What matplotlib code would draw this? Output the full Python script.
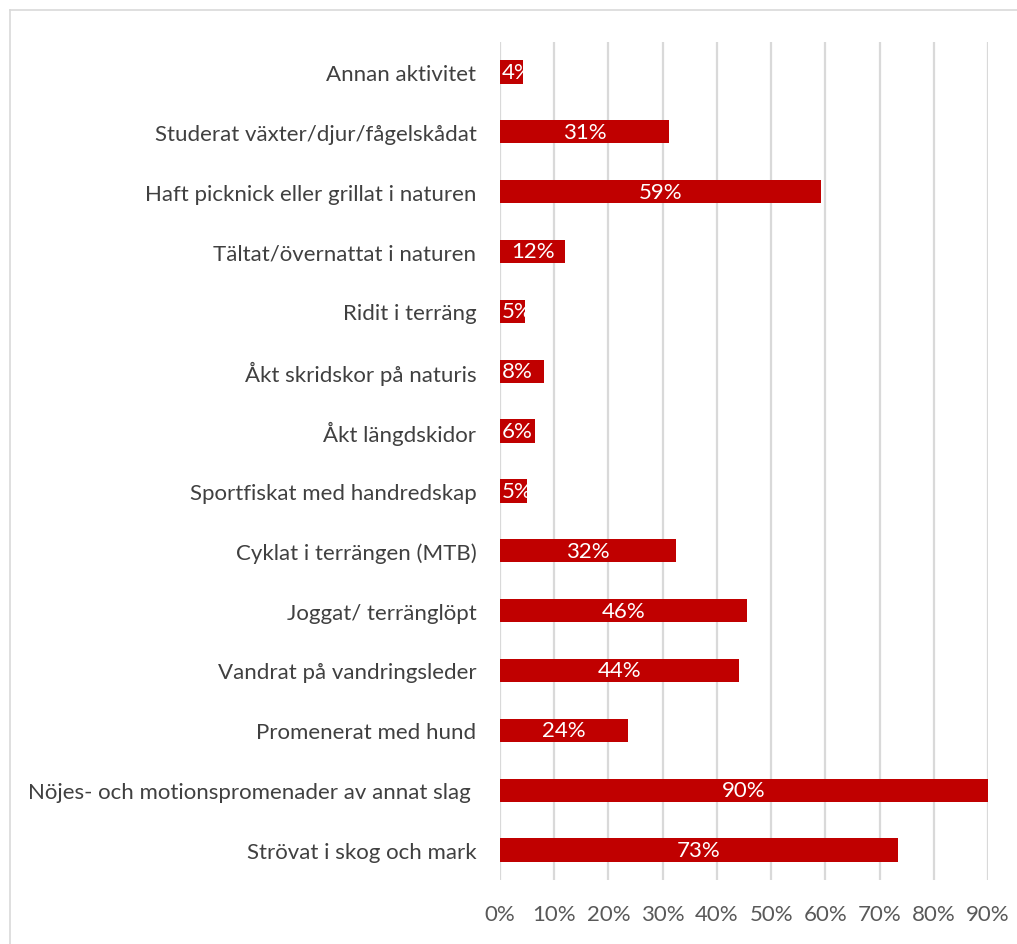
import matplotlib
matplotlib.use("Agg")
import matplotlib.pyplot as plt
from matplotlib.lines import Line2D
from matplotlib.ticker import FuncFormatter

categories = [
    "Strövat i skog och mark",
    "Nöjes- och motionspromenader av annat slag ",
    "Promenerat med hund",
    "Vandrat på vandringsleder",
    "Joggat/ terränglöpt",
    "Cyklat i terrängen (MTB)",
    "Sportfiskat med handredskap",
    "Åkt längdskidor",
    "Åkt skridskor på naturis",
    "Ridit i terräng",
    "Tältat/övernattat i naturen",
    "Haft picknick eller grillat i naturen",
    "Studerat växter/djur/fågelskådat",
    "Annan aktivitet",
]
values = [73.4, 90.0, 23.6, 44.1, 45.6, 32.5, 5.0, 6.5, 8.1, 4.6, 12.0, 59.2, 31.2, 4.2]
xticks = [0, 10, 20, 30, 40, 50, 60, 70, 80, 90]

plt.rcParams['font.family'] = ['Lato', 'DejaVu Sans']

fig = plt.figure(figsize=(10.17, 9.45), dpi=100)
ax = fig.add_axes([500/1017, 1-881/945, 488/1017, 838/945])

y = list(range(len(categories)))
bars = ax.barh(y, values, height=0.39, color="#C00000", zorder=3)
for bar, yi, v in zip(bars, y, values):
    if v < 10:
        t = ax.text(0.35, yi, f"{round(v):.0f}%", ha="left", va="center",
                    color="white", fontsize=16, zorder=4)
    else:
        t = ax.text(v/2, yi, f"{round(v):.0f}%", ha="center", va="center",
                    color="white", fontsize=16, zorder=4)
    t.set_clip_path(bar)

ax.set_xlim(0, 90)
ax.set_ylim(-0.5, len(categories)-0.5)
ax.set_xticks(xticks)
ax.xaxis.set_major_formatter(FuncFormatter(lambda v, p: f"{v:.0f}%"))
ax.set_yticks(y)
ax.set_yticklabels(categories)
ax.tick_params(axis="y", length=0, pad=17, labelsize=16, labelcolor="#404040")
ax.tick_params(axis="x", length=0, pad=17, labelsize=16, labelcolor="#595959")
for s in ax.spines.values():
    s.set_visible(False)
ax.grid(axis="x", color="#D9D9D9", linewidth=1.6, zorder=0)
ax.set_axisbelow(True)

fig.add_artist(Line2D([9.5/1017, 9.5/1017], [0, 1-11/945], color="#D9D9D9", linewidth=1.2))
fig.add_artist(Line2D([9.5/1017, 1], [1-11/945, 1-11/945], color="#D9D9D9", linewidth=1.2))

fig.savefig("out.png", dpi=100, facecolor="white")
